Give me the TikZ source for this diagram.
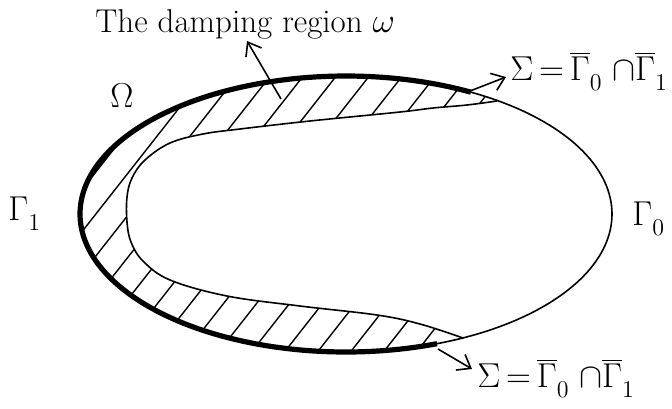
\documentclass[tikz,border=0pt]{standalone}
\usetikzlibrary{arrows.meta}
\newcommand{\lowsub}[1]{_{\lower2.5pt\hbox{$\scriptstyle #1$}}}
\begin{document}
\begin{tikzpicture}[x=0.5pt,y=-0.5pt,
  thinline/.style={line width=0.8pt},
  thickline/.style={line width=2.6pt},
  hatchline/.style={line width=0.7pt},
  pointer/.style={line width=0.8pt,-{Straight Barb[length=6pt,width=9pt]}},
  lbl/.style={inner sep=0pt,font=\fontsize{16.5}{20}\selectfont},
  siglbl/.style={inner sep=0pt,font=\fontsize{17}{20}\selectfont}]
\useasboundingbox (0,0) rectangle (672,408);

% hatching of the damping region
\begin{scope}
\clip plot[smooth,tension=0.6] coordinates {(497,101) (467,105) (433,108) (400,112) (310,121) (240,129) (203,134) (170,143) (145,160) (132,178) (127,197) (127,222) (131,242) (143,261) (170,280) (227,296) (300,306) (377,315) (420,324) (463,338)}
  -- plot[domain=-296.1:-55.4,samples=100] ({346+266*cos(-\x)},{214-138*sin(-\x)}) -- cycle;
\foreach \i in {-10,...,20} \draw[hatchline] ({\i*33},420) -- ++(330,-420);
\end{scope}

% boundaries
\draw[thinline] plot[domain=-70:62,samples=80] ({346+266*cos(\x)},{214-138*sin(\x)});
\draw[thickline] plot[domain=62:290,samples=140] ({346+266*cos(\x)},{214-138*sin(\x)});
\draw[thinline] plot[smooth,tension=0.6] coordinates {(497,101) (467,105) (433,108) (400,112) (310,121) (240,129) (203,134) (170,143) (145,160) (132,178) (127,197) (127,222) (131,242) (143,261) (170,280) (227,296) (300,306) (377,315) (420,324) (463,338)};

% labels
\node[lbl,anchor=base west] (damp) at (95,32) {The damping region $\omega$};
\node[lbl] (Omega) at (122,96) {$\Omega$};
\node[lbl,anchor=base west] (G1) at (8,220) {$\Gamma\lowsub{1}$};
\node[lbl,anchor=base west] (G0) at (632,225) {$\Gamma\lowsub{0}$};
\node[siglbl,anchor=base west] (S1) at (510,80) {$\Sigma\,{=}\,\overline{\Gamma}\lowsub{0}\;{\cap}\overline{\Gamma}\lowsub{1}$};
\node[siglbl,anchor=base west] (S2) at (477,387) {$\Sigma\,{=}\,\overline{\Gamma}\lowsub{0}\;{\cap}\overline{\Gamma}\lowsub{1}$};

% pointers
\coordinate (dtail) at (281,99);
\coordinate (dhead) at (247,41);
\coordinate (s1tail) at (470,91);
\coordinate (s1head) at (506,77);
\coordinate (s2tail) at (438,349);
\coordinate (s2head) at (472,369);
\draw[pointer] (dtail) -- (dhead);
\draw[pointer] (s1tail) -- (s1head);
\draw[pointer] (s2tail) -- (s2head);
\end{tikzpicture}
\end{document}
